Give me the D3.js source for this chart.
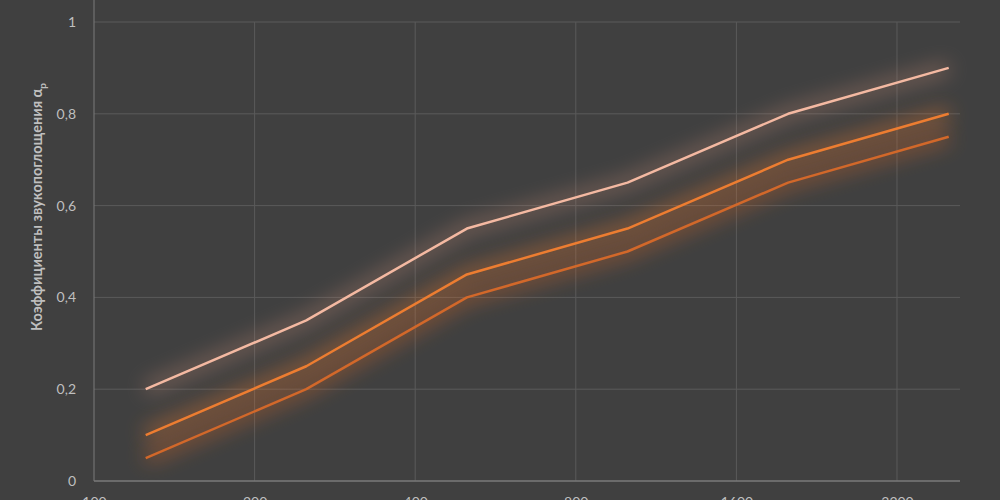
<!DOCTYPE html>
<html><head><meta charset="utf-8">
<script src="https://cdn.jsdelivr.net/npm/d3@7"></script>
<style>html,body{margin:0;padding:0;background:#404040;}svg{display:block;}</style>
</head><body>
<svg id="chart" width="1000" height="500"></svg>
<script>
const freqs = [125, 250, 500, 1000, 2000, 4000];
const xTicks = [100, 200, 400, 800, 1600, 3200];
const yTicks = [0, 0.2, 0.4, 0.6, 0.8, 1];
const series1 = [0.2, 0.35, 0.55, 0.65, 0.8, 0.9];
const series2 = [0.1, 0.25, 0.45, 0.55, 0.7, 0.8];
const series3 = [0.05, 0.2, 0.4, 0.5, 0.65, 0.75];
const colors = ["#f4b9a2", "#ed7d31", "#d2682a"];
const yTitle = "Коэффициенты звукопоглощения α";

const FONT = "Lato, 'Liberation Sans', Arial, sans-serif";
const svg = d3.select("#chart");
const x = d3.scaleLog().base(2).domain([100, 4200]).range([94, 960]);
const y = d3.scaleLinear().domain([0, 1]).range([481, 22]);

const defs = svg.append("defs");
colors.forEach((c, i) => {
  const f = defs.append("filter").attr("id", "glow" + i)
    .attr("x", "-20%").attr("y", "-40%").attr("width", "140%").attr("height", "180%");
  f.append("feGaussianBlur").attr("in", "SourceGraphic").attr("stdDeviation", 10).attr("result", "b");
  f.append("feComponentTransfer").attr("in", "b").attr("result", "b2")
    .append("feFuncA").attr("type", "linear").attr("slope", 0.5);
  const m = f.append("feMerge");
  m.append("feMergeNode").attr("in", "b2");
});

const g = svg.append("g");
g.selectAll("line.h").data(yTicks.slice(1)).join("line")
  .attr("x1", 94).attr("x2", 960).attr("y1", d => y(d)).attr("y2", d => y(d))
  .attr("stroke", "#5a5a5a").attr("stroke-width", 1);
g.selectAll("line.v").data(xTicks.slice(1)).join("line")
  .attr("y1", 22).attr("y2", 481).attr("x1", d => x(d)).attr("x2", d => x(d))
  .attr("stroke", "#5a5a5a").attr("stroke-width", 1);
g.append("line").attr("x1", 94).attr("x2", 94).attr("y1", 0).attr("y2", 481).attr("stroke", "#7a7a7a");
g.append("line").attr("x1", 94).attr("x2", 960).attr("y1", 481).attr("y2", 481).attr("stroke", "#7a7a7a").attr("stroke-width", 1.5);

const fmt = d => d === 0 || d === 1 ? String(d) : d3.format(".1f")(d).replace(".", ",");
const yAxis = d3.axisLeft(y).tickValues(yTicks).tickFormat(fmt).tickSize(0).tickPadding(18);
const ya = svg.append("g").attr("transform", "translate(94,0)").call(yAxis);
ya.select(".domain").remove();
ya.selectAll("text").attr("fill", "#bfbfbf").style("font-family", FONT).style("font-size", "14px");

const xAxis = d3.axisBottom(x).tickValues(xTicks).tickFormat(d3.format("d")).tickSize(0).tickPadding(16);
const xa = svg.append("g").attr("transform", "translate(0,481)").call(xAxis);
xa.select(".domain").remove();
xa.selectAll("text").attr("fill", "#bfbfbf").style("font-family", FONT).style("font-size", "14px");

const t = svg.append("text").attr("transform", "translate(42,207) rotate(-90)")
  .attr("text-anchor", "middle").attr("fill", "#bfbfbf")
  .style("font-family", FONT).style("font-size", "14.5px").style("font-weight", "bold");
t.append("tspan").text(yTitle);
t.append("tspan").attr("dy", 4).style("font-size", "10px").text("р");

const data = [series1, series2, series3];
const line = d3.line().x((d, i) => x(freqs[i])).y(d => y(d));
const glowG = svg.append("g");
data.forEach((s, i) => {
  glowG.append("path").attr("d", line(s)).attr("fill", "none")
    .attr("stroke", i === 0 ? "#b88470" : colors[i]).attr("stroke-width", 12)
    .attr("filter", `url(#glow${i})`);
});
data.forEach((s, i) => {
  svg.append("path").attr("d", line(s)).attr("fill", "none")
    .attr("stroke", colors[i]).attr("stroke-width", 2.5).attr("stroke-linejoin", "round");
});
</script>
</body></html>
